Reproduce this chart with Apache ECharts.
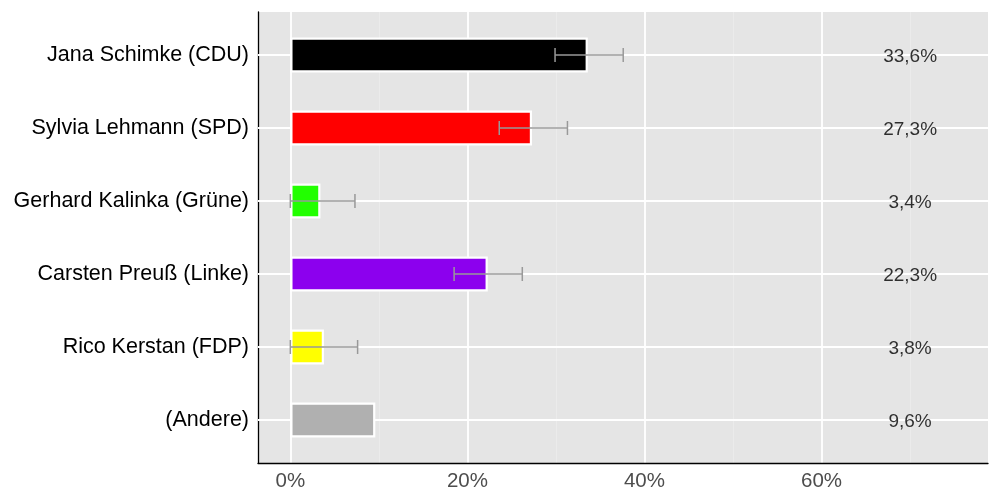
<!DOCTYPE html>
<html>
<head>
<meta charset="utf-8">
<script src="https://cdn.jsdelivr.net/npm/echarts@6/dist/echarts.min.js"></script>
<style>html,body{margin:0;padding:0;background:#fff}#c{width:1000px;height:500px}</style>
</head>
<body>
<div id="c"></div>
<script>
const categories = ['Jana Schimke (CDU)', 'Sylvia Lehmann (SPD)', 'Gerhard Kalinka (Grüne)', 'Carsten Preuß (Linke)', 'Rico Kerstan (FDP)', '(Andere)'];
const values = [33.6, 27.3, 3.4, 22.3, 3.8, 9.6];
const barColors = ['#000000', '#ff0000', '#22ff00', '#8c00ee', '#ffff00', '#b0b0b0'];
const errLow = [29.9, 23.6, 0.0, 18.5, 0.0, null];
const errHigh = [37.6, 31.3, 7.3, 26.2, 7.6, null];
const xTicks = [0, 20, 40, 60];
const xMinorTicks = [10, 30, 50, 70];
const xMin = -3.65, xMax = 78.8;
const labelX = 70;

const font = '"Liberation Sans", Arial, Helvetica, sans-serif';
const chart = echarts.init(document.getElementById('c'), null, {renderer: 'canvas'});

const errData = [];
categories.forEach((c, i) => { if (errLow[i] != null) errData.push([i, errLow[i], errHigh[i]]); });

chart.setOption({
  animation: false,
  backgroundColor: '#ffffff',
  grid: [
    {left: 258, right: 12, top: 12, bottom: 37, show: true, backgroundColor: '#e5e5e5', borderWidth: 0},
    {left: 258, right: 12, top: 55, bottom: 80, show: false}
  ],
  xAxis: [
    {gridIndex: 0, type: 'value', min: xMin, max: xMax, position: 'bottom',
     axisLine: {show: true, onZero: false, lineStyle: {color: '#000', width: 1.3}},
     axisTick: {show: false, customValues: xTicks},
     axisLabel: {customValues: xTicks, formatter: v => v + '%', color: '#4d4d4d', fontSize: 20.5, fontFamily: font, margin: 8},
     splitLine: {show: true, lineStyle: {color: '#ffffff', width: 1.8}}},
    {gridIndex: 0, type: 'value', min: xMin, max: xMax, position: 'bottom',
     axisLine: {show: false, onZero: false}, axisTick: {show: false, customValues: xMinorTicks},
     axisLabel: {show: false, customValues: xMinorTicks},
     splitLine: {show: true, lineStyle: {color: '#ebebeb', width: 1}}},
    {gridIndex: 1, type: 'value', min: xMin, max: xMax, show: false,
     axisLine: {onZero: false}, splitLine: {show: false}}
  ],
  yAxis: [
    {gridIndex: 0, type: 'value', min: 0, max: 1, position: 'left',
     axisLine: {show: true, onZero: false, lineStyle: {color: '#000', width: 1.3}},
     axisTick: {show: false}, axisLabel: {show: false}, splitLine: {show: false}},
    {gridIndex: 1, type: 'category', data: categories, inverse: true, boundaryGap: false, position: 'left', z: 1,
     axisLine: {show: false, onZero: false}, axisTick: {show: false},
     axisLabel: {color: '#000', fontSize: 21.5, fontFamily: font, margin: 9},
     splitLine: {show: true, lineStyle: {color: '#ffffff', width: 1.8}}}
  ],
  series: [
    {type: 'bar', xAxisIndex: 2, yAxisIndex: 1, clip: false, barWidth: 35, z: 3,
     data: values.map((v, i) => ({value: v, itemStyle: {color: barColors[i]}})),
     itemStyle: {borderColor: '#ffffff', borderWidth: 2.2}},
    {type: 'custom', xAxisIndex: 2, yAxisIndex: 1, clip: false, z: 4,
     data: errData,
     renderItem: function (params, api) {
       const i = api.value(0);
       const p0 = api.coord([api.value(1), i]);
       const p1 = api.coord([api.value(2), i]);
       const h = 7;
       const st = {stroke: '#999999', lineWidth: 1.5, fill: null};
       return {type: 'group', children: [
         {type: 'line', shape: {x1: p0[0], y1: p0[1], x2: p1[0], y2: p1[1]}, style: st},
         {type: 'line', shape: {x1: p0[0], y1: p0[1] - h, x2: p0[0], y2: p0[1] + h}, style: st},
         {type: 'line', shape: {x1: p1[0], y1: p1[1] - h, x2: p1[0], y2: p1[1] + h}, style: st}
       ]};
     }},
    {type: 'scatter', xAxisIndex: 2, yAxisIndex: 1, clip: false, symbolSize: 0, z: 5,
     data: values.map((v, i) => [labelX, i, v]),
     label: {show: true, position: 'inside', color: '#000', fontSize: 19, fontFamily: font, offset: [0, 2],
       formatter: p => p.value[2].toFixed(1).replace('.', ',') + '%'}}
  ]
});
</script>
</body>
</html>
